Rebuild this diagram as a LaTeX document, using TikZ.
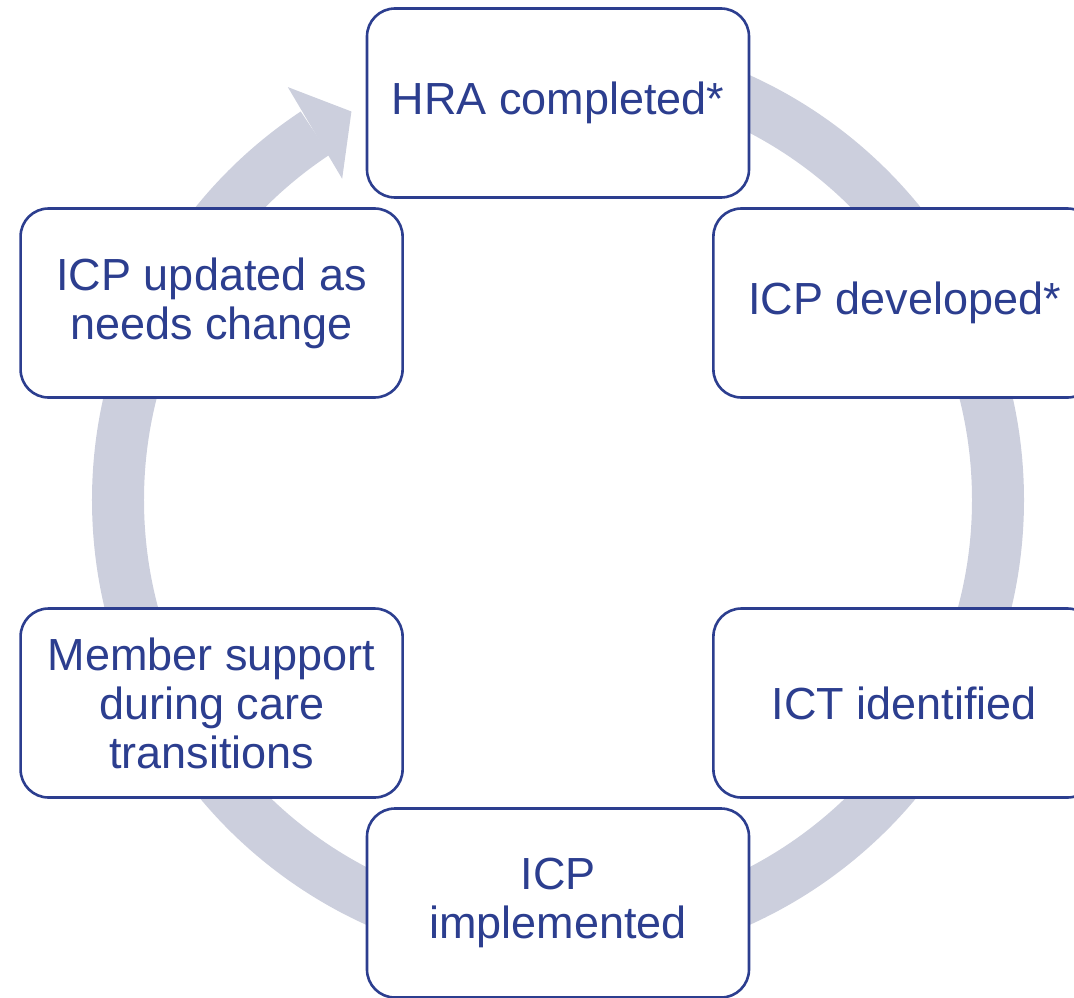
\documentclass[tikz,border=0pt]{standalone}
\usepackage{fontspec}
\setmainfont{Liberation Sans}
\definecolor{cyclink}{RGB}{44,62,143}
\definecolor{cycring}{RGB}{204,207,221}
\tikzset{
   stage/.style = {draw = cyclink, line width = 1.3pt, rounded corners = 14pt, fill = white,
      minimum width = 191pt, minimum height = 94.5pt, align = center, text = cyclink,
      font = \fontsize{22.5}{24.5}\selectfont},
   ring/.style = {draw = cycring, line width = 26pt}
}
\begin{document}
\begin{tikzpicture}[x = 0.5pt, y = 0.5pt]
\useasboundingbox (-558, -497) rectangle (516, 500);
\draw[ring] (90:440) arc[start angle = 90, end angle = -236.5, radius = 440];
\fill[cycring] (123.2:493.5) -- (118:440) -- (123.9:387) -- cycle;

\begin{scope}[shift = {(0,-3)}]
\foreach \a/\n/\t in {90/hra/{HRA completed*}, 30/dev/{ICP developed*},
      -30/ict/{ICT identified}, -90/impl/{ICP\\implemented},
      -150/memb/{Member support\\during care\\transitions}, 150/upd/{ICP updated as\\needs change}}{
   \node[stage] (\n) at (\a:400) {\t};
   }
\end{scope}
\end{tikzpicture}
\end{document}
